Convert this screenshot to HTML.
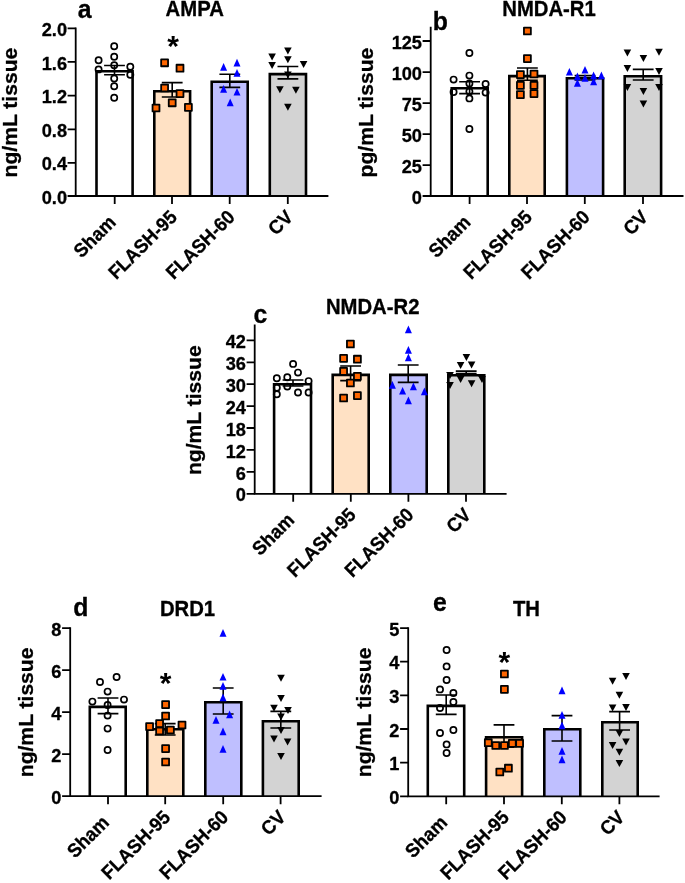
<!DOCTYPE html>
<html><head><meta charset="utf-8"><title>Figure</title>
<style>
html,body{margin:0;padding:0;background:#fff;}
svg{display:block;will-change:transform;}
text{font-family:"Liberation Sans",sans-serif;font-weight:bold;fill:#000;stroke:#000;stroke-width:0.3px;stroke-linejoin:round;}
text.st{stroke:none;}
</style></head><body>
<svg width="685" height="883" viewBox="0 0 685 883">
<rect width="685" height="883" fill="#fff"/>
<path d="M96.5 196 V71.3 H132.6 V196" fill="#FFFFFF" stroke="#000" stroke-width="2.6" stroke-linejoin="miter"/>
<path d="M154.3 196 V91.3 H190.1 V196" fill="#FFE1C4" stroke="#000" stroke-width="2.6" stroke-linejoin="miter"/>
<path d="M211.7 196 V81.7 H247.7 V196" fill="#BFBFFF" stroke="#000" stroke-width="2.6" stroke-linejoin="miter"/>
<path d="M269.8 196 V74.1 H306 V196" fill="#D3D3D3" stroke="#000" stroke-width="2.6" stroke-linejoin="miter"/>
<path d="M104.1 65.5 H124.9 M104.1 74.8 H124.9 M114.5 65.5 V74.8" fill="none" stroke="#000" stroke-width="1.6"/>
<path d="M161.8 82.6 H182.6 M161.8 97 H182.6 M172.2 82.6 V97" fill="none" stroke="#000" stroke-width="1.6"/>
<path d="M219.4 74.2 H240.2 M219.4 87.4 H240.2 M229.8 74.2 V87.4" fill="none" stroke="#000" stroke-width="1.6"/>
<path d="M277.5 66.5 H298.3 M277.5 78.9 H298.3 M287.9 66.5 V78.9" fill="none" stroke="#000" stroke-width="1.6"/>
<circle cx="114.2" cy="46.3" r="3.1" fill="none" stroke="#000" stroke-width="1.7"/>
<circle cx="114.2" cy="56.7" r="3.1" fill="none" stroke="#000" stroke-width="1.7"/>
<circle cx="98.6" cy="60.3" r="3.1" fill="none" stroke="#000" stroke-width="1.7"/>
<circle cx="114.2" cy="65.3" r="3.1" fill="none" stroke="#000" stroke-width="1.7"/>
<circle cx="130.3" cy="66.7" r="3.1" fill="none" stroke="#000" stroke-width="1.7"/>
<circle cx="98.6" cy="69.4" r="3.1" fill="none" stroke="#000" stroke-width="1.7"/>
<circle cx="130.3" cy="74.8" r="3.1" fill="none" stroke="#000" stroke-width="1.7"/>
<circle cx="114.2" cy="78.5" r="3.1" fill="none" stroke="#000" stroke-width="1.7"/>
<circle cx="114.2" cy="86.3" r="3.1" fill="none" stroke="#000" stroke-width="1.7"/>
<circle cx="114.2" cy="97.8" r="3.1" fill="none" stroke="#000" stroke-width="1.7"/>
<rect x="161.15" y="59.35" width="6.9" height="6.9" fill="#FF6600" stroke="#000" stroke-width="1.8" stroke-linejoin="round"/>
<rect x="176.55" y="64.75" width="6.9" height="6.9" fill="#FF6600" stroke="#000" stroke-width="1.8" stroke-linejoin="round"/>
<rect x="161.15" y="84.55" width="6.9" height="6.9" fill="#FF6600" stroke="#000" stroke-width="1.8" stroke-linejoin="round"/>
<rect x="176.55" y="90.15" width="6.9" height="6.9" fill="#FF6600" stroke="#000" stroke-width="1.8" stroke-linejoin="round"/>
<rect x="168.75" y="99.35" width="6.9" height="6.9" fill="#FF6600" stroke="#000" stroke-width="1.8" stroke-linejoin="round"/>
<rect x="152.55" y="104.55" width="6.9" height="6.9" fill="#FF6600" stroke="#000" stroke-width="1.8" stroke-linejoin="round"/>
<rect x="184.95" y="103.95" width="6.9" height="6.9" fill="#FF6600" stroke="#000" stroke-width="1.8" stroke-linejoin="round"/>
<path d="M220.1 70.8 L227.1 70.8 L223.6 63.1Z" fill="#0000FF"/>
<path d="M233.5 66.4 L240.5 66.4 L237 58.7Z" fill="#0000FF"/>
<path d="M233.5 76.8 L240.5 76.8 L237 69.1Z" fill="#0000FF"/>
<path d="M220.1 92.8 L227.1 92.8 L223.6 85.1Z" fill="#0000FF"/>
<path d="M233.5 95.6 L240.5 95.6 L237 87.9Z" fill="#0000FF"/>
<path d="M226.7 106.2 L233.7 106.2 L230.2 98.5Z" fill="#0000FF"/>
<path d="M284.1 47.5 L291.7 47.5 L287.9 54.5Z" fill="#000"/>
<path d="M284.1 56.3 L291.7 56.3 L287.9 63.3Z" fill="#000"/>
<path d="M268.3 53.4 L275.9 53.4 L272.1 60.4Z" fill="#000"/>
<path d="M268.3 62.1 L275.9 62.1 L272.1 69.1Z" fill="#000"/>
<path d="M299.8 61.1 L307.4 61.1 L303.6 68.1Z" fill="#000"/>
<path d="M276.1 86.2 L283.7 86.2 L279.9 93.2Z" fill="#000"/>
<path d="M292.1 86.7 L299.7 86.7 L295.9 93.7Z" fill="#000"/>
<path d="M284.1 103.7 L291.7 103.7 L287.9 110.7Z" fill="#000"/>
<path d="M284.1 71.5 L291.7 71.5 L287.9 78.5Z" fill="#000"/>
<path d="M75.7 27.4 V196 H328.4" fill="none" stroke="#000" stroke-width="1.8" stroke-linecap="butt"/>
<text transform="translate(67 35.92) scale(1 1.05)" font-size="18.2" text-anchor="end">2.0</text>
<text transform="translate(67 69.52) scale(1 1.05)" font-size="18.2" text-anchor="end">1.6</text>
<text transform="translate(67 103.32) scale(1 1.05)" font-size="18.2" text-anchor="end">1.2</text>
<text transform="translate(67 136.92) scale(1 1.05)" font-size="18.2" text-anchor="end">0.8</text>
<text transform="translate(67 170.42) scale(1 1.05)" font-size="18.2" text-anchor="end">0.4</text>
<text transform="translate(67 203.62) scale(1 1.05)" font-size="18.2" text-anchor="end">0.0</text>
<path d="M67.6 28.3 H75.7 M67.6 61.9 H75.7 M67.6 95.7 H75.7 M67.6 129.3 H75.7 M67.6 162.8 H75.7 M67.6 196 H75.7 M114.7 196 V204 M172 196 V204 M229.7 196 V204 M287.8 196 V204" fill="none" stroke="#000" stroke-width="1.8"/>
<text transform="translate(117 223.4) rotate(-45) scale(1 1.05)" font-size="18.4" text-anchor="end">Sham</text>
<text transform="translate(178.3 218.2) rotate(-45) scale(1 1.05)" font-size="18.4" text-anchor="end">FLASH-95</text>
<text transform="translate(236 218.2) rotate(-45) scale(1 1.05)" font-size="18.4" text-anchor="end">FLASH-60</text>
<text transform="translate(294.1 218.2) rotate(-45) scale(1 1.05)" font-size="18.4" text-anchor="end">CV</text>
<text transform="translate(16.5 112.6) rotate(-90) scale(1 1)" font-size="21.1" text-anchor="middle">ng/mL tissue</text>
<text transform="translate(194.7 16.4) scale(1 1.05)" font-size="20.3" text-anchor="middle">AMPA</text>
<text transform="translate(77.8 18.4) scale(1 1.05)" font-size="24.8" text-anchor="start">a</text>
<text x="173" y="56.3" font-size="30" text-anchor="middle" class="st">*</text>
<path d="M451.7 196 V88.3 H487.7 V196" fill="#FFFFFF" stroke="#000" stroke-width="2.6" stroke-linejoin="miter"/>
<path d="M509.3 196 V76.1 H544.7 V196" fill="#FFE1C4" stroke="#000" stroke-width="2.6" stroke-linejoin="miter"/>
<path d="M566.9 196 V78.3 H603.1 V196" fill="#BFBFFF" stroke="#000" stroke-width="2.6" stroke-linejoin="miter"/>
<path d="M624.7 196 V76.3 H661.1 V196" fill="#D3D3D3" stroke="#000" stroke-width="2.6" stroke-linejoin="miter"/>
<path d="M459.2 81.8 H480 M459.2 93.6 H480 M469.6 81.8 V93.6" fill="none" stroke="#000" stroke-width="1.6"/>
<path d="M517 68 H537.8 M517 80.2 H537.8 M527.4 68 V80.2" fill="none" stroke="#000" stroke-width="1.6"/>
<path d="M574.6 75.6 H595.4 M574.6 80 H595.4 M585 75.6 V80" fill="none" stroke="#000" stroke-width="1.6"/>
<path d="M632.8 69.4 H653.6 M632.8 80 H653.6 M643.2 69.4 V80" fill="none" stroke="#000" stroke-width="1.6"/>
<circle cx="469.4" cy="53" r="3.1" fill="none" stroke="#000" stroke-width="1.7"/>
<circle cx="469.4" cy="75.6" r="3.1" fill="none" stroke="#000" stroke-width="1.7"/>
<circle cx="453.6" cy="79.6" r="3.1" fill="none" stroke="#000" stroke-width="1.7"/>
<circle cx="469.4" cy="83.4" r="3.1" fill="none" stroke="#000" stroke-width="1.7"/>
<circle cx="485.6" cy="84" r="3.1" fill="none" stroke="#000" stroke-width="1.7"/>
<circle cx="453.6" cy="92" r="3.1" fill="none" stroke="#000" stroke-width="1.7"/>
<circle cx="485.6" cy="92.6" r="3.1" fill="none" stroke="#000" stroke-width="1.7"/>
<circle cx="469.4" cy="91.6" r="3.1" fill="none" stroke="#000" stroke-width="1.7"/>
<circle cx="469.4" cy="98.4" r="3.1" fill="none" stroke="#000" stroke-width="1.7"/>
<circle cx="469.4" cy="129" r="3.1" fill="none" stroke="#000" stroke-width="1.7"/>
<rect x="523.95" y="27.55" width="6.9" height="6.9" fill="#FF6600" stroke="#000" stroke-width="1.8" stroke-linejoin="round"/>
<rect x="523.95" y="55.15" width="6.9" height="6.9" fill="#FF6600" stroke="#000" stroke-width="1.8" stroke-linejoin="round"/>
<rect x="516.95" y="71.15" width="6.9" height="6.9" fill="#FF6600" stroke="#000" stroke-width="1.8" stroke-linejoin="round"/>
<rect x="530.55" y="70.55" width="6.9" height="6.9" fill="#FF6600" stroke="#000" stroke-width="1.8" stroke-linejoin="round"/>
<rect x="516.95" y="81.95" width="6.9" height="6.9" fill="#FF6600" stroke="#000" stroke-width="1.8" stroke-linejoin="round"/>
<rect x="530.55" y="81.95" width="6.9" height="6.9" fill="#FF6600" stroke="#000" stroke-width="1.8" stroke-linejoin="round"/>
<rect x="516.95" y="91.15" width="6.9" height="6.9" fill="#FF6600" stroke="#000" stroke-width="1.8" stroke-linejoin="round"/>
<rect x="530.55" y="90.15" width="6.9" height="6.9" fill="#FF6600" stroke="#000" stroke-width="1.8" stroke-linejoin="round"/>
<path d="M565.9 75.6 L572.9 75.6 L569.4 67.9Z" fill="#0000FF"/>
<path d="M581.5 73.6 L588.5 73.6 L585 65.9Z" fill="#0000FF"/>
<path d="M573.9 80.2 L580.9 80.2 L577.4 72.5Z" fill="#0000FF"/>
<path d="M581.5 81.8 L588.5 81.8 L585 74.1Z" fill="#0000FF"/>
<path d="M590.1 79.2 L597.1 79.2 L593.6 71.5Z" fill="#0000FF"/>
<path d="M597.9 79.2 L604.9 79.2 L601.4 71.5Z" fill="#0000FF"/>
<path d="M573.9 86.8 L580.9 86.8 L577.4 79.1Z" fill="#0000FF"/>
<path d="M590.1 85.2 L597.1 85.2 L593.6 77.5Z" fill="#0000FF"/>
<path d="M623.6 49.5 L631.2 49.5 L627.4 56.5Z" fill="#000"/>
<path d="M655.2 48.7 L662.8 48.7 L659 55.7Z" fill="#000"/>
<path d="M639.6 55.1 L647.2 55.1 L643.4 62.1Z" fill="#000"/>
<path d="M623.6 65.1 L631.2 65.1 L627.4 72.1Z" fill="#000"/>
<path d="M655.2 68.1 L662.8 68.1 L659 75.1Z" fill="#000"/>
<path d="M623.6 84.1 L631.2 84.1 L627.4 91.1Z" fill="#000"/>
<path d="M655.2 84.1 L662.8 84.1 L659 91.1Z" fill="#000"/>
<path d="M639.6 88.1 L647.2 88.1 L643.4 95.1Z" fill="#000"/>
<path d="M639.6 100.5 L647.2 100.5 L643.4 107.5Z" fill="#000"/>
<path d="M430.7 26.7 V196 H683.5" fill="none" stroke="#000" stroke-width="1.8" stroke-linecap="butt"/>
<text transform="translate(422 48.62) scale(1 1.05)" font-size="18.2" text-anchor="end">125</text>
<text transform="translate(422 79.72) scale(1 1.05)" font-size="18.2" text-anchor="end">100</text>
<text transform="translate(422 110.82) scale(1 1.05)" font-size="18.2" text-anchor="end">75</text>
<text transform="translate(422 141.82) scale(1 1.05)" font-size="18.2" text-anchor="end">50</text>
<text transform="translate(422 172.82) scale(1 1.05)" font-size="18.2" text-anchor="end">25</text>
<text transform="translate(422 203.62) scale(1 1.05)" font-size="18.2" text-anchor="end">0</text>
<path d="M422.6 41 H430.7 M422.6 72.1 H430.7 M422.6 103.2 H430.7 M422.6 134.2 H430.7 M422.6 165.2 H430.7 M422.6 196 H430.7 M469.6 196 V204 M527 196 V204 M584.8 196 V204 M643 196 V204" fill="none" stroke="#000" stroke-width="1.8"/>
<text transform="translate(471.9 223.4) rotate(-45) scale(1 1.05)" font-size="18.4" text-anchor="end">Sham</text>
<text transform="translate(533.3 218.2) rotate(-45) scale(1 1.05)" font-size="18.4" text-anchor="end">FLASH-95</text>
<text transform="translate(591.1 218.2) rotate(-45) scale(1 1.05)" font-size="18.4" text-anchor="end">FLASH-60</text>
<text transform="translate(649.3 218.2) rotate(-45) scale(1 1.05)" font-size="18.4" text-anchor="end">CV</text>
<text transform="translate(373.4 112.6) rotate(-90) scale(1 1)" font-size="21.1" text-anchor="middle">pg/mL tissue</text>
<text transform="translate(549 16.4) scale(1 1.05)" font-size="20.3" text-anchor="middle">NMDA-R1</text>
<text transform="translate(432.8 29.8) scale(1 1.05)" font-size="24.8" text-anchor="start">b</text>
<path d="M274.1 493.8 V384.3 H311 V493.8" fill="#FFFFFF" stroke="#000" stroke-width="2.6" stroke-linejoin="miter"/>
<path d="M332.7 493.8 V374.9 H368.7 V493.8" fill="#FFE1C4" stroke="#000" stroke-width="2.6" stroke-linejoin="miter"/>
<path d="M390.3 493.8 V374.9 H426.7 V493.8" fill="#BFBFFF" stroke="#000" stroke-width="2.6" stroke-linejoin="miter"/>
<path d="M448.3 493.8 V375.3 H484.3 V493.8" fill="#D3D3D3" stroke="#000" stroke-width="2.6" stroke-linejoin="miter"/>
<path d="M282.6 380 H303.4 M282.6 386 H303.4 M293 380 V386" fill="none" stroke="#000" stroke-width="1.6"/>
<path d="M340.2 366 H361 M340.2 380.6 H361 M350.6 366 V380.6" fill="none" stroke="#000" stroke-width="1.6"/>
<path d="M397.8 365 H418.6 M397.8 382.4 H418.6 M408.2 365 V382.4" fill="none" stroke="#000" stroke-width="1.6"/>
<path d="M455.8 371.1 H476.6 M455.8 373.6 H476.6 M466.2 371.1 V373.6" fill="none" stroke="#000" stroke-width="1.6"/>
<circle cx="293.1" cy="363.9" r="3.1" fill="none" stroke="#000" stroke-width="1.7"/>
<circle cx="298" cy="372.6" r="3.1" fill="none" stroke="#000" stroke-width="1.7"/>
<circle cx="276.8" cy="378.2" r="3.1" fill="none" stroke="#000" stroke-width="1.7"/>
<circle cx="287.3" cy="377.2" r="3.1" fill="none" stroke="#000" stroke-width="1.7"/>
<circle cx="308.6" cy="381.1" r="3.1" fill="none" stroke="#000" stroke-width="1.7"/>
<circle cx="287.3" cy="386.6" r="3.1" fill="none" stroke="#000" stroke-width="1.7"/>
<circle cx="276.8" cy="387.7" r="3.1" fill="none" stroke="#000" stroke-width="1.7"/>
<circle cx="276.8" cy="394.2" r="3.1" fill="none" stroke="#000" stroke-width="1.7"/>
<circle cx="298" cy="392.5" r="3.1" fill="none" stroke="#000" stroke-width="1.7"/>
<circle cx="308.6" cy="392.5" r="3.1" fill="none" stroke="#000" stroke-width="1.7"/>
<rect x="346.95" y="340.55" width="6.9" height="6.9" fill="#FF6600" stroke="#000" stroke-width="1.8" stroke-linejoin="round"/>
<rect x="340.15" y="354.95" width="6.9" height="6.9" fill="#FF6600" stroke="#000" stroke-width="1.8" stroke-linejoin="round"/>
<rect x="353.95" y="355.75" width="6.9" height="6.9" fill="#FF6600" stroke="#000" stroke-width="1.8" stroke-linejoin="round"/>
<rect x="340.15" y="367.95" width="6.9" height="6.9" fill="#FF6600" stroke="#000" stroke-width="1.8" stroke-linejoin="round"/>
<rect x="353.95" y="372.95" width="6.9" height="6.9" fill="#FF6600" stroke="#000" stroke-width="1.8" stroke-linejoin="round"/>
<rect x="346.95" y="379.55" width="6.9" height="6.9" fill="#FF6600" stroke="#000" stroke-width="1.8" stroke-linejoin="round"/>
<rect x="340.15" y="394.55" width="6.9" height="6.9" fill="#FF6600" stroke="#000" stroke-width="1.8" stroke-linejoin="round"/>
<rect x="353.95" y="392.15" width="6.9" height="6.9" fill="#FF6600" stroke="#000" stroke-width="1.8" stroke-linejoin="round"/>
<path d="M404.9 333.2 L411.9 333.2 L408.4 325.5Z" fill="#0000FF"/>
<path d="M404.9 353.8 L411.9 353.8 L408.4 346.1Z" fill="#0000FF"/>
<path d="M404.9 361.2 L411.9 361.2 L408.4 353.5Z" fill="#0000FF"/>
<path d="M388.9 388.8 L395.9 388.8 L392.4 381.1Z" fill="#0000FF"/>
<path d="M409.9 390.2 L416.9 390.2 L413.4 382.5Z" fill="#0000FF"/>
<path d="M399.1 394.6 L406.1 394.6 L402.6 386.9Z" fill="#0000FF"/>
<path d="M420.9 395.2 L427.9 395.2 L424.4 387.5Z" fill="#0000FF"/>
<path d="M404.9 404.2 L411.9 404.2 L408.4 396.5Z" fill="#0000FF"/>
<path d="M462.6 354.1 L470.2 354.1 L466.4 361.1Z" fill="#000"/>
<path d="M456.8 362.1 L464.4 362.1 L460.6 369.1Z" fill="#000"/>
<path d="M467.8 361.5 L475.4 361.5 L471.6 368.5Z" fill="#000"/>
<path d="M446.2 372.1 L453.8 372.1 L450 379.1Z" fill="#000"/>
<path d="M456.8 376.1 L464.4 376.1 L460.6 383.1Z" fill="#000"/>
<path d="M467.8 380.3 L475.4 380.3 L471.6 387.3Z" fill="#000"/>
<path d="M478.2 376.1 L485.8 376.1 L482 383.1Z" fill="#000"/>
<path d="M446.2 382.1 L453.8 382.1 L450 389.1Z" fill="#000"/>
<path d="M254.7 324.6 V493.8 H506.6" fill="none" stroke="#000" stroke-width="1.8" stroke-linecap="butt"/>
<text transform="translate(246 348.02) scale(1 1.05)" font-size="18.2" text-anchor="end">42</text>
<text transform="translate(246 369.92) scale(1 1.05)" font-size="18.2" text-anchor="end">36</text>
<text transform="translate(246 391.82) scale(1 1.05)" font-size="18.2" text-anchor="end">30</text>
<text transform="translate(246 413.72) scale(1 1.05)" font-size="18.2" text-anchor="end">24</text>
<text transform="translate(246 435.62) scale(1 1.05)" font-size="18.2" text-anchor="end">18</text>
<text transform="translate(246 457.52) scale(1 1.05)" font-size="18.2" text-anchor="end">12</text>
<text transform="translate(246 479.52) scale(1 1.05)" font-size="18.2" text-anchor="end">6</text>
<text transform="translate(246 501.42) scale(1 1.05)" font-size="18.2" text-anchor="end">0</text>
<path d="M246.6 340.4 H254.7 M246.6 362.3 H254.7 M246.6 384.2 H254.7 M246.6 406.1 H254.7 M246.6 428 H254.7 M246.6 449.9 H254.7 M246.6 471.9 H254.7 M246.6 493.8 H254.7 M293.2 493.8 V501.8 M350.8 493.8 V501.8 M408.4 493.8 V501.8 M466 493.8 V501.8" fill="none" stroke="#000" stroke-width="1.8"/>
<text transform="translate(295.5 521.2) rotate(-45) scale(1 1.05)" font-size="18.4" text-anchor="end">Sham</text>
<text transform="translate(357.1 516) rotate(-45) scale(1 1.05)" font-size="18.4" text-anchor="end">FLASH-95</text>
<text transform="translate(414.7 516) rotate(-45) scale(1 1.05)" font-size="18.4" text-anchor="end">FLASH-60</text>
<text transform="translate(472.3 516) rotate(-45) scale(1 1.05)" font-size="18.4" text-anchor="end">CV</text>
<text transform="translate(200.8 410.2) rotate(-90) scale(1 1)" font-size="21.1" text-anchor="middle">ng/mL tissue</text>
<text transform="translate(372.7 313.8) scale(1 1.05)" font-size="20.3" text-anchor="middle">NMDA-R2</text>
<text transform="translate(253.6 322.6) scale(1 1.05)" font-size="24.8" text-anchor="start">c</text>
<path d="M89.8 796.2 V706.9 H125.7 V796.2" fill="#FFFFFF" stroke="#000" stroke-width="2.6" stroke-linejoin="miter"/>
<path d="M147.3 796.2 V729.3 H183.3 V796.2" fill="#FFE1C4" stroke="#000" stroke-width="2.6" stroke-linejoin="miter"/>
<path d="M205.3 796.2 V702.3 H241.3 V796.2" fill="#BFBFFF" stroke="#000" stroke-width="2.6" stroke-linejoin="miter"/>
<path d="M262.9 796.2 V721.3 H298.7 V796.2" fill="#D3D3D3" stroke="#000" stroke-width="2.6" stroke-linejoin="miter"/>
<path d="M97.6 698 H118.4 M97.6 713.6 H118.4 M108 698 V713.6" fill="none" stroke="#000" stroke-width="1.6"/>
<path d="M154.8 723.6 H175.6 M154.8 735 H175.6 M165.2 723.6 V735" fill="none" stroke="#000" stroke-width="1.6"/>
<path d="M212.8 688 H233.6 M212.8 714 H233.6 M223.2 688 V714" fill="none" stroke="#000" stroke-width="1.6"/>
<path d="M270.4 711.4 H291.2 M270.4 728 H291.2 M280.8 711.4 V728" fill="none" stroke="#000" stroke-width="1.6"/>
<circle cx="116.6" cy="677" r="3.1" fill="none" stroke="#000" stroke-width="1.7"/>
<circle cx="100" cy="682" r="3.1" fill="none" stroke="#000" stroke-width="1.7"/>
<circle cx="107.6" cy="691.6" r="3.1" fill="none" stroke="#000" stroke-width="1.7"/>
<circle cx="92.4" cy="701.6" r="3.1" fill="none" stroke="#000" stroke-width="1.7"/>
<circle cx="124" cy="699.6" r="3.1" fill="none" stroke="#000" stroke-width="1.7"/>
<circle cx="107.6" cy="705" r="3.1" fill="none" stroke="#000" stroke-width="1.7"/>
<circle cx="107.6" cy="715.6" r="3.1" fill="none" stroke="#000" stroke-width="1.7"/>
<circle cx="107.6" cy="728.6" r="3.1" fill="none" stroke="#000" stroke-width="1.7"/>
<circle cx="107.6" cy="750" r="3.1" fill="none" stroke="#000" stroke-width="1.7"/>
<rect x="162.15" y="701.15" width="6.9" height="6.9" fill="#FF6600" stroke="#000" stroke-width="1.8" stroke-linejoin="round"/>
<rect x="162.15" y="712.55" width="6.9" height="6.9" fill="#FF6600" stroke="#000" stroke-width="1.8" stroke-linejoin="round"/>
<rect x="146.15" y="723.15" width="6.9" height="6.9" fill="#FF6600" stroke="#000" stroke-width="1.8" stroke-linejoin="round"/>
<rect x="156.15" y="720.15" width="6.9" height="6.9" fill="#FF6600" stroke="#000" stroke-width="1.8" stroke-linejoin="round"/>
<rect x="178.55" y="721.55" width="6.9" height="6.9" fill="#FF6600" stroke="#000" stroke-width="1.8" stroke-linejoin="round"/>
<rect x="156.15" y="727.55" width="6.9" height="6.9" fill="#FF6600" stroke="#000" stroke-width="1.8" stroke-linejoin="round"/>
<rect x="166.95" y="726.55" width="6.9" height="6.9" fill="#FF6600" stroke="#000" stroke-width="1.8" stroke-linejoin="round"/>
<rect x="162.15" y="745.15" width="6.9" height="6.9" fill="#FF6600" stroke="#000" stroke-width="1.8" stroke-linejoin="round"/>
<rect x="162.15" y="758.55" width="6.9" height="6.9" fill="#FF6600" stroke="#000" stroke-width="1.8" stroke-linejoin="round"/>
<path d="M219.5 636.8 L226.5 636.8 L223 629.1Z" fill="#0000FF"/>
<path d="M219.5 680.6 L226.5 680.6 L223 672.9Z" fill="#0000FF"/>
<path d="M219.5 689.8 L226.5 689.8 L223 682.1Z" fill="#0000FF"/>
<path d="M219.5 701.2 L226.5 701.2 L223 693.5Z" fill="#0000FF"/>
<path d="M226.1 718.2 L233.1 718.2 L229.6 710.5Z" fill="#0000FF"/>
<path d="M212.5 723.8 L219.5 723.8 L216 716.1Z" fill="#0000FF"/>
<path d="M219.5 735.2 L226.5 735.2 L223 727.5Z" fill="#0000FF"/>
<path d="M219.5 752.8 L226.5 752.8 L223 745.1Z" fill="#0000FF"/>
<path d="M277.2 674.7 L284.8 674.7 L281 681.7Z" fill="#000"/>
<path d="M277.2 695.1 L284.8 695.1 L281 702.1Z" fill="#000"/>
<path d="M270.2 704.7 L277.8 704.7 L274 711.7Z" fill="#000"/>
<path d="M284.2 707.1 L291.8 707.1 L288 714.1Z" fill="#000"/>
<path d="M277.2 713.5 L284.8 713.5 L281 720.5Z" fill="#000"/>
<path d="M277.2 727.1 L284.8 727.1 L281 734.1Z" fill="#000"/>
<path d="M270.2 735.5 L277.8 735.5 L274 742.5Z" fill="#000"/>
<path d="M283.8 738.5 L291.4 738.5 L287.6 745.5Z" fill="#000"/>
<path d="M277.2 753.1 L284.8 753.1 L281 760.1Z" fill="#000"/>
<path d="M70.2 627.2 V796.2 H321.6" fill="none" stroke="#000" stroke-width="1.8" stroke-linecap="butt"/>
<text transform="translate(61.5 635.72) scale(1 1.05)" font-size="18.2" text-anchor="end">8</text>
<text transform="translate(61.5 677.72) scale(1 1.05)" font-size="18.2" text-anchor="end">6</text>
<text transform="translate(61.5 719.77) scale(1 1.05)" font-size="18.2" text-anchor="end">4</text>
<text transform="translate(61.5 761.82) scale(1 1.05)" font-size="18.2" text-anchor="end">2</text>
<text transform="translate(61.5 803.82) scale(1 1.05)" font-size="18.2" text-anchor="end">0</text>
<path d="M62.1 628.1 H70.2 M62.1 670.1 H70.2 M62.1 712.15 H70.2 M62.1 754.2 H70.2 M62.1 796.2 H70.2 M108 796.2 V804.2 M165.2 796.2 V804.2 M223.2 796.2 V804.2 M280.6 796.2 V804.2" fill="none" stroke="#000" stroke-width="1.8"/>
<text transform="translate(110.3 823.6) rotate(-45) scale(1 1.05)" font-size="18.4" text-anchor="end">Sham</text>
<text transform="translate(171.5 818.4) rotate(-45) scale(1 1.05)" font-size="18.4" text-anchor="end">FLASH-95</text>
<text transform="translate(229.5 818.4) rotate(-45) scale(1 1.05)" font-size="18.4" text-anchor="end">FLASH-60</text>
<text transform="translate(286.9 818.4) rotate(-45) scale(1 1.05)" font-size="18.4" text-anchor="end">CV</text>
<text transform="translate(32.8 712.4) rotate(-90) scale(1 1)" font-size="21.1" text-anchor="middle">ng/mL tissue</text>
<text transform="translate(187.5 616.4) scale(1 1.05)" font-size="20.3" text-anchor="middle">DRD1</text>
<text transform="translate(73.3 616.3) scale(1 1.05)" font-size="24.8" text-anchor="start">d</text>
<text x="165.6" y="693.2" font-size="30" text-anchor="middle" class="st">*</text>
<path d="M427.8 796.3 V705.9 H464.2 V796.3" fill="#FFFFFF" stroke="#000" stroke-width="2.6" stroke-linejoin="miter"/>
<path d="M486.1 796.3 V737.3 H522.1 V796.3" fill="#FFE1C4" stroke="#000" stroke-width="2.6" stroke-linejoin="miter"/>
<path d="M544.3 796.3 V729.3 H580.3 V796.3" fill="#BFBFFF" stroke="#000" stroke-width="2.6" stroke-linejoin="miter"/>
<path d="M602.3 796.3 V722.3 H637.7 V796.3" fill="#D3D3D3" stroke="#000" stroke-width="2.6" stroke-linejoin="miter"/>
<path d="M435.8 695 H456.6 M435.8 714.4 H456.6 M446.2 695 V714.4" fill="none" stroke="#000" stroke-width="1.6"/>
<path d="M493.6 724.9 H514.4 M493.6 747.1 H514.4 M504 724.9 V747.1" fill="none" stroke="#000" stroke-width="1.6"/>
<path d="M551.6 715.6 H572.4 M551.6 741 H572.4 M562 715.6 V741" fill="none" stroke="#000" stroke-width="1.6"/>
<path d="M609.2 711.6 H630 M609.2 730 H630 M619.6 711.6 V730" fill="none" stroke="#000" stroke-width="1.6"/>
<circle cx="446.6" cy="650" r="3.1" fill="none" stroke="#000" stroke-width="1.7"/>
<circle cx="446.6" cy="666.4" r="3.1" fill="none" stroke="#000" stroke-width="1.7"/>
<circle cx="446.6" cy="680" r="3.1" fill="none" stroke="#000" stroke-width="1.7"/>
<circle cx="440" cy="689.4" r="3.1" fill="none" stroke="#000" stroke-width="1.7"/>
<circle cx="453.4" cy="693" r="3.1" fill="none" stroke="#000" stroke-width="1.7"/>
<circle cx="453.4" cy="702" r="3.1" fill="none" stroke="#000" stroke-width="1.7"/>
<circle cx="440" cy="708" r="3.1" fill="none" stroke="#000" stroke-width="1.7"/>
<circle cx="440" cy="733" r="3.1" fill="none" stroke="#000" stroke-width="1.7"/>
<circle cx="453.4" cy="730" r="3.1" fill="none" stroke="#000" stroke-width="1.7"/>
<circle cx="446.6" cy="744.4" r="3.1" fill="none" stroke="#000" stroke-width="1.7"/>
<circle cx="446.6" cy="753" r="3.1" fill="none" stroke="#000" stroke-width="1.7"/>
<rect x="500.95" y="670.55" width="6.9" height="6.9" fill="#FF6600" stroke="#000" stroke-width="1.8" stroke-linejoin="round"/>
<rect x="500.95" y="685.95" width="6.9" height="6.9" fill="#FF6600" stroke="#000" stroke-width="1.8" stroke-linejoin="round"/>
<rect x="484.85" y="739.25" width="6.9" height="6.9" fill="#FF6600" stroke="#000" stroke-width="1.8" stroke-linejoin="round"/>
<rect x="492.35" y="742.05" width="6.9" height="6.9" fill="#FF6600" stroke="#000" stroke-width="1.8" stroke-linejoin="round"/>
<rect x="500.95" y="742.05" width="6.9" height="6.9" fill="#FF6600" stroke="#000" stroke-width="1.8" stroke-linejoin="round"/>
<rect x="508.85" y="739.95" width="6.9" height="6.9" fill="#FF6600" stroke="#000" stroke-width="1.8" stroke-linejoin="round"/>
<rect x="516.15" y="739.95" width="6.9" height="6.9" fill="#FF6600" stroke="#000" stroke-width="1.8" stroke-linejoin="round"/>
<rect x="496.35" y="768.55" width="6.9" height="6.9" fill="#FF6600" stroke="#000" stroke-width="1.8" stroke-linejoin="round"/>
<rect x="504.95" y="764.75" width="6.9" height="6.9" fill="#FF6600" stroke="#000" stroke-width="1.8" stroke-linejoin="round"/>
<path d="M558.5 694.2 L565.5 694.2 L562 686.5Z" fill="#0000FF"/>
<path d="M558.5 718.8 L565.5 718.8 L562 711.1Z" fill="#0000FF"/>
<path d="M558.5 729.2 L565.5 729.2 L562 721.5Z" fill="#0000FF"/>
<path d="M558.5 754.8 L565.5 754.8 L562 747.1Z" fill="#0000FF"/>
<path d="M558.5 763.2 L565.5 763.2 L562 755.5Z" fill="#0000FF"/>
<path d="M622.2 673.1 L629.8 673.1 L626 680.1Z" fill="#000"/>
<path d="M608.8 677.7 L616.4 677.7 L612.6 684.7Z" fill="#000"/>
<path d="M615.6 691.7 L623.2 691.7 L619.4 698.7Z" fill="#000"/>
<path d="M608.8 704.5 L616.4 704.5 L612.6 711.5Z" fill="#000"/>
<path d="M622.2 704.1 L629.8 704.1 L626 711.1Z" fill="#000"/>
<path d="M615.6 730.1 L623.2 730.1 L619.4 737.1Z" fill="#000"/>
<path d="M622.2 738.5 L629.8 738.5 L626 745.5Z" fill="#000"/>
<path d="M608.8 742.1 L616.4 742.1 L612.6 749.1Z" fill="#000"/>
<path d="M615.6 748.7 L623.2 748.7 L619.4 755.7Z" fill="#000"/>
<path d="M615.6 760.1 L623.2 760.1 L619.4 767.1Z" fill="#000"/>
<path d="M408.2 627.2 V796.3 H659.6" fill="none" stroke="#000" stroke-width="1.8" stroke-linecap="butt"/>
<text transform="translate(399.5 635.72) scale(1 1.05)" font-size="18.2" text-anchor="end">5</text>
<text transform="translate(399.5 669.32) scale(1 1.05)" font-size="18.2" text-anchor="end">4</text>
<text transform="translate(399.5 703.02) scale(1 1.05)" font-size="18.2" text-anchor="end">3</text>
<text transform="translate(399.5 736.62) scale(1 1.05)" font-size="18.2" text-anchor="end">2</text>
<text transform="translate(399.5 770.32) scale(1 1.05)" font-size="18.2" text-anchor="end">1</text>
<text transform="translate(399.5 803.92) scale(1 1.05)" font-size="18.2" text-anchor="end">0</text>
<path d="M400.1 628.1 H408.2 M400.1 661.7 H408.2 M400.1 695.4 H408.2 M400.1 729 H408.2 M400.1 762.7 H408.2 M400.1 796.3 H408.2 M446.2 796.3 V804.3 M504 796.3 V804.3 M561.8 796.3 V804.3 M619.4 796.3 V804.3" fill="none" stroke="#000" stroke-width="1.8"/>
<text transform="translate(448.5 823.7) rotate(-45) scale(1 1.05)" font-size="18.4" text-anchor="end">Sham</text>
<text transform="translate(510.3 818.5) rotate(-45) scale(1 1.05)" font-size="18.4" text-anchor="end">FLASH-95</text>
<text transform="translate(568.1 818.5) rotate(-45) scale(1 1.05)" font-size="18.4" text-anchor="end">FLASH-60</text>
<text transform="translate(625.7 818.5) rotate(-45) scale(1 1.05)" font-size="18.4" text-anchor="end">CV</text>
<text transform="translate(371 712.4) rotate(-90) scale(1 1)" font-size="21.1" text-anchor="middle">ng/mL tissue</text>
<text transform="translate(526.4 616.4) scale(1 1.05)" font-size="20.3" text-anchor="middle">TH</text>
<text transform="translate(433 611.4) scale(1 1.05)" font-size="24.8" text-anchor="start">e</text>
<text x="504.4" y="672.2" font-size="30" text-anchor="middle" class="st">*</text>
</svg>
</body></html>
